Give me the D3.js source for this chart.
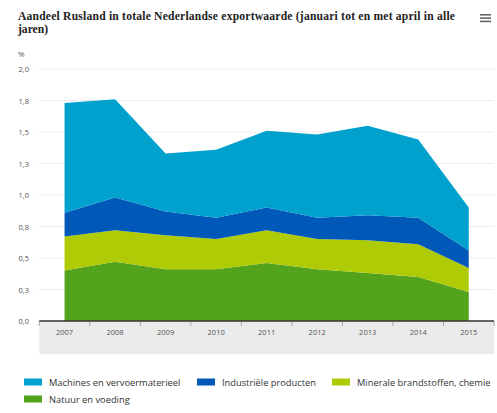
<!DOCTYPE html>
<html><head><meta charset="utf-8">
<script src="https://cdn.jsdelivr.net/npm/d3@7/dist/d3.min.js"></script>
<style>body{margin:0;background:#fff;}svg{display:block;}</style>
</head><body>
<svg id="c" width="497" height="413"></svg>
<script>
const years = ["2007","2008","2009","2010","2011","2012","2013","2014","2015"];
const natuur = [0.40, 0.47, 0.41, 0.41, 0.46, 0.41, 0.38, 0.35, 0.23];
const minerale = [0.27, 0.25, 0.27, 0.24, 0.26, 0.24, 0.26, 0.26, 0.19];
const industriele = [0.19, 0.26, 0.19, 0.17, 0.18, 0.17, 0.20, 0.21, 0.14];
const machines = [0.87, 0.78, 0.46, 0.54, 0.61, 0.66, 0.71, 0.62, 0.34];
const yTicks = [0, 0.25, 0.5, 0.75, 1.0, 1.25, 1.5, 1.75, 2.0];
const yTickLabels = ["0,0","0,3","0,5","0,8","1,0","1,3","1,5","1,8","2,0"];
const seriesNames = ["Natuur en voeding","Minerale brandstoffen, chemie","Industriële producten","Machines en vervoermaterieel"];
const seriesColors = ["#53a31d","#afcb05","#0058b8","#00a1cd"];
const title = "Aandeel Rusland in totale Nederlandse exportwaarde (januari tot en met april in alle jaren)";

const svg = d3.select("#c");
const L = 39.3, R = 494, T = 69, B = 321;

const x = d3.scaleBand().domain(years).range([L, R]).padding(0);
const y = d3.scaleLinear().domain([0, 2]).range([B, T]);

// Title
const tFont = "bold 11.6px 'Liberation Serif', 'DejaVu Serif', serif";
const t1 = svg.append("text").attr("x", 18).attr("y", 20)
  .style("font", tFont).attr("fill", "#222")
  .text("Aandeel Rusland in totale Nederlandse exportwaarde (januari tot en met april in alle");
const w = t1.node().getComputedTextLength();
if (w > 0) t1.attr("textLength", 437).attr("lengthAdjust", "spacing");
svg.append("text").attr("x", 18).attr("y", 33)
  .style("font", tFont).attr("fill", "#222").text("jaren)");

// menu icon
[0,1,2].forEach(i => svg.append("rect").attr("x", 480).attr("y", 14 + i*3.3).attr("width", 11).attr("height", 1.6).attr("fill", "#666"));

// % label
svg.append("text").attr("x", 18).attr("y", 57).style("font", "8px 'Open Sans', sans-serif").attr("fill", "#555").text("%");

// x axis band
svg.append("rect").attr("x", L).attr("y", B).attr("width", R - L).attr("height", 33).attr("fill", "#ebebeb");

// gridlines
svg.append("g").selectAll("line").data(yTicks.filter(d => d > 0)).join("line")
  .attr("x1", L).attr("x2", R).attr("y1", d => y(d)).attr("y2", d => y(d))
  .attr("stroke", "#ececec").attr("stroke-width", 1);

// y tick labels
svg.append("g").selectAll("text").data(yTicks).join("text")
  .attr("x", 29).attr("y", d => y(d) + 3).attr("text-anchor", "end")
  .style("font", "7.5px 'Open Sans', sans-serif").attr("fill", "#555")
  .text((d, i) => yTickLabels[i]);

// stacked areas
const rows = years.map((yr, i) => ({year: yr, s0: natuur[i], s1: minerale[i], s2: industriele[i], s3: machines[i]}));
const stack = d3.stack().keys(["s0","s1","s2","s3"]);
const stacked = stack(rows);
const area = d3.area()
  .x(d => x(d.data.year) + x.bandwidth() / 2)
  .y0(d => y(d[0])).y1(d => y(d[1]));
svg.append("g").selectAll("path").data(stacked).join("path")
  .attr("d", area).attr("fill", (d, i) => seriesColors[i]);

// x axis
const xAxis = d3.axisBottom(x).tickSize(0).tickPadding(9);
const gx = svg.append("g").attr("transform", `translate(0,${B})`).call(xAxis);
gx.select(".domain").remove();
gx.selectAll("text").style("font", "7.5px 'Open Sans', sans-serif").attr("fill", "#555");
// band boundary ticks
svg.append("g").selectAll("line").data(years.concat(["end"])).join("line")
  .attr("x1", (d, i) => i < years.length ? x(d) : R)
  .attr("x2", (d, i) => i < years.length ? x(d) : R)
  .attr("y1", B).attr("y2", B + 5).attr("stroke", "#aaa").attr("stroke-width", 1);
svg.append("line").attr("x1", L).attr("x2", R).attr("y1", B).attr("y2", B)
  .attr("stroke", "#333").attr("stroke-width", 1.5);

// legend
const legendPos = [[24, 382], [197, 382], [332, 382], [24, 399]];
const legendOrder = [3, 2, 1, 0];
legendOrder.forEach((si, k) => {
  const [lx, ly] = legendPos[k];
  svg.append("rect").attr("x", lx).attr("y", ly - 3.5).attr("width", 18).attr("height", 7).attr("fill", seriesColors[si]);
  svg.append("text").attr("x", lx + 25).attr("y", ly + 3.5)
    .style("font", "9.3px 'Open Sans', sans-serif").attr("fill", "#333").text(seriesNames[si]);
});
</script>
</body></html>
